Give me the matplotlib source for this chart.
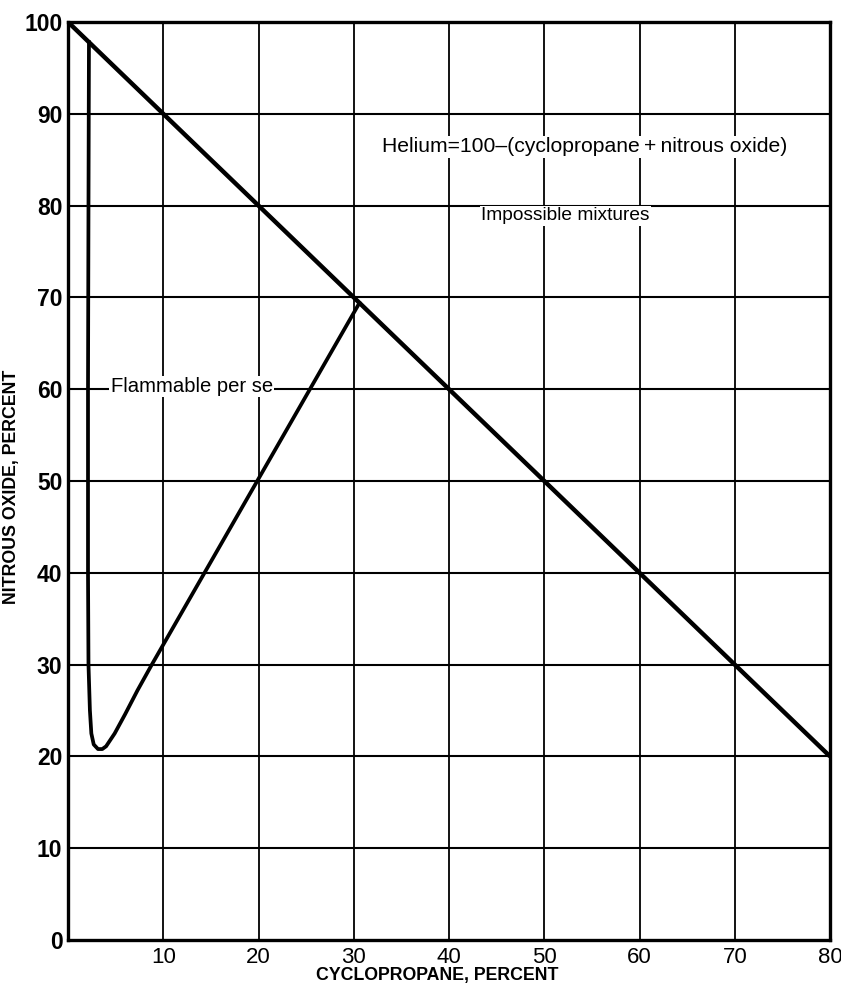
import matplotlib
matplotlib.use("Agg")
import matplotlib.pyplot as plt

plt.rcParams['font.family'] = ['Liberation Sans', 'DejaVu Sans']

# Boundary of impossible mixtures: helium = 100 - (cyclopropane + nitrous oxide) >= 0
limit_cyclo = [0, 80]
limit_n2o = [100, 20]

# Flammability envelope (flammable per se)
flam_cyclo = [2.2, 2.15, 2.1, 2.1, 2.15, 2.3, 2.45, 2.7, 3.15, 3.6, 4.0, 4.9, 6.0, 7.3, 8.8, 30.6]
flam_n2o = [97.8, 80, 60, 40, 30, 25, 22.5, 21.3, 20.8, 20.8, 21.1, 22.5, 24.6, 27.2, 30.0, 69.4]

x_ticks = [10, 20, 30, 40, 50, 60, 70, 80]
y_ticks = [0, 10, 20, 30, 40, 50, 60, 70, 80, 90, 100]

fig = plt.figure(figsize=(8.41, 9.89), dpi=100)
ax = fig.add_axes([68 / 841, 1 - 940 / 989, (830 - 68) / 841, (940 - 22) / 989])
ax.set_xlim(0, 80)
ax.set_ylim(0, 100)

for v in range(10, 80, 10):
    ax.axvline(v, color='black', lw=1.3, zorder=1)
for v in range(10, 100, 10):
    ax.axhline(v, color='black', lw=1.5, zorder=1)

ax.plot(limit_cyclo, limit_n2o, color='black', lw=3.2, solid_capstyle='butt', zorder=3)
ax.plot(flam_cyclo, flam_n2o, color='black', lw=2.7, solid_joinstyle='round', zorder=3)

# Leader for "Flammable per se"
ax.plot([0, 4.2], [60, 60], color='black', lw=1.4, zorder=3)

for s in ax.spines.values():
    s.set_linewidth(2.4)

ax.set_xticks(x_ticks)
ax.set_yticks(y_ticks)
ax.set_xticklabels([str(t) for t in x_ticks], fontsize=16)
ax.set_yticklabels([str(t) for t in y_ticks], fontsize=16.5, fontweight='bold')
ax.tick_params(length=0)
ax.tick_params(axis='x', pad=5)
ax.tick_params(axis='y', pad=4)

ax.set_xlabel('CYCLOPROPANE, PERCENT', fontsize=12.8, fontweight='bold')
ax.set_ylabel('NITROUS OXIDE, PERCENT', fontsize=12.8, fontweight='bold')
ax.xaxis.set_label_coords(0.484, -0.029)
ax.yaxis.set_label_coords(-0.063, 0.494)

ax.text(33.0, 86.4, 'Helium=100\u2013(cyclopropane\u2009+\u2009nitrous oxide)', fontsize=15.2,
        va='center', ha='left', zorder=4,
        bbox=dict(facecolor='white', edgecolor='none', pad=1))
ax.text(43.4, 78.9, 'Impossible mixtures', fontsize=13.8, va='center', ha='left', zorder=4,
        bbox=dict(facecolor='white', edgecolor='none', pad=1))
ax.text(4.5, 60.3, 'Flammable per se', fontsize=14.6, va='center', ha='left', zorder=4,
        bbox=dict(facecolor='white', edgecolor='none', pad=1))

fig.savefig('out.png', dpi=100)
